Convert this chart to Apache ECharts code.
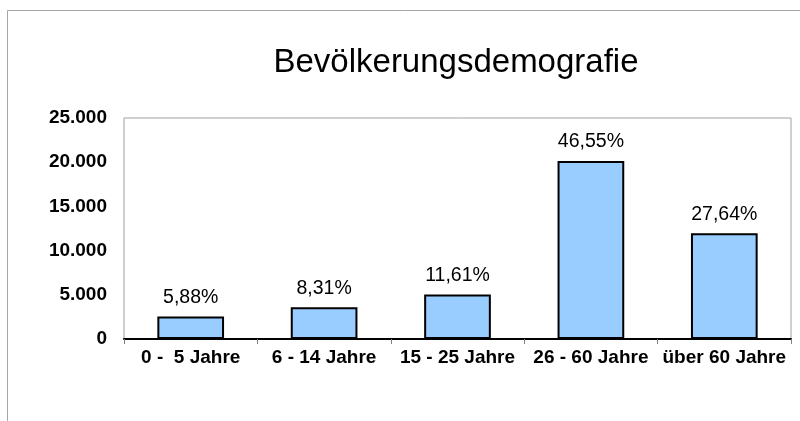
<!DOCTYPE html>
<html>
<head>
<meta charset="utf-8">
<script src="https://cdn.jsdelivr.net/npm/echarts@6/dist/echarts.min.js"></script>
<style>
html,body{margin:0;padding:0;background:#fff;}
#chart{width:800px;height:421px;}
</style>
</head>
<body>
<div id="chart"></div>
<script>
var titleText = 'Bevölkerungsdemografie';
var categories = ['0 -  5 Jahre', '6 - 14 Jahre', '15 - 25 Jahre', '26 - 60 Jahre', 'über 60 Jahre'];
var values = [2543, 3594, 5021, 20133, 11954];
var percentLabels = ['5,88%', '8,31%', '11,61%', '46,55%', '27,64%'];
var yMin = 0, yMax = 25000, yStep = 5000;

var chart = echarts.init(document.getElementById('chart'), null, {renderer: 'canvas'});
var fontFam = '"Liberation Sans", Arial, sans-serif';
function fmt(v) {
  return String(v).replace(/\B(?=(\d{3})+(?!\d))/g, '.');
}
chart.setOption({
  animation: false,
  backgroundColor: '#ffffff',
  graphic: [{
    type: 'rect',
    shape: {x: 7.5, y: 10.5, width: 820, height: 440},
    style: {fill: 'none', stroke: '#a6a6a6', lineWidth: 1},
    silent: true
  }],
  title: {
    text: titleText,
    left: 451,
    top: 41,
    textAlign: 'center',
    textStyle: {fontFamily: fontFam, fontSize: 33, fontWeight: 'normal', color: '#000'}
  },
  grid: {
    left: 124, right: 9, top: 118, bottom: 82,
    show: true, borderColor: '#a0a0a0', borderWidth: 1, backgroundColor: 'transparent',
    containLabel: false
  },
  xAxis: {
    type: 'category',
    data: categories,
    axisLine: {lineStyle: {color: '#000', width: 2}},
    axisTick: {show: true, length: 5, lineStyle: {color: '#808080'}},
    axisLabel: {fontFamily: fontFam, fontSize: 19, fontWeight: 'bold', color: '#000', margin: 9, interval: 0}
  },
  yAxis: {
    type: 'value',
    min: yMin, max: yMax, interval: yStep,
    axisLine: {show: false},
    axisTick: {show: false},
    splitLine: {show: false},
    axisLabel: {fontFamily: fontFam, fontSize: 19, fontWeight: 'bold', color: '#000', margin: 17, formatter: fmt}
  },
  series: [{
    type: 'bar',
    data: values,
    barWidth: '50%',
    itemStyle: {color: '#99ccff', borderColor: '#000', borderWidth: 2},
    label: {
      show: true, position: 'top', distance: 9,
      fontFamily: fontFam, fontSize: 19.5, color: '#000',
      formatter: function (p) { return percentLabels[p.dataIndex]; }
    }
  }]
});
</script>
</body>
</html>
